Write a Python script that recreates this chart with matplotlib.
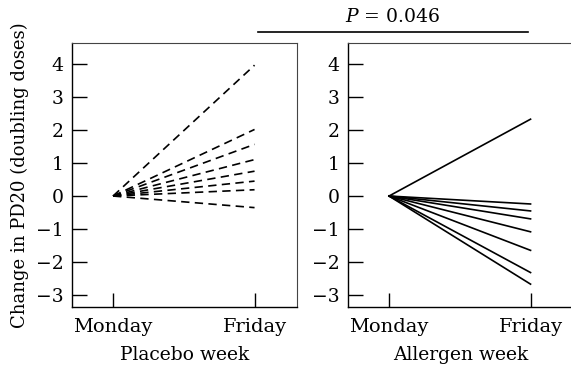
import matplotlib
matplotlib.use("Agg")
import matplotlib.pyplot as plt
from matplotlib.lines import Line2D

days = ["Monday", "Friday"]
placebo_friday = [3.95, 2.01, 1.56, 1.10, 0.75, 0.45, 0.19, -0.35]
allergen_friday = [2.32, -0.24, -0.45, -0.69, -1.08, -1.64, -2.31, -2.66]
monday_value = 0.0
yticks = [-3, -2, -1, 0, 1, 2, 3, 4]
p_text = "$P$ = 0.046"

plt.rcParams['font.family'] = ['DejaVu Serif']
plt.rcParams['mathtext.fontset'] = 'dejavuserif'

W, H = 571, 371
fig = plt.figure(figsize=(W / 100, H / 100), dpi=100)

def mk(left, right):
    return fig.add_axes([left / W, 1 - 307 / H, (right - left) / W, (307 - 43) / H])

ax1 = mk(72, 297)
ax2 = mk(348, 573)

for ax, vals, ls, xl in [(ax1, placebo_friday, (0, (5, 3.2)), "Placebo week"),
                         (ax2, allergen_friday, '-', "Allergen week")]:
    for v in vals:
        ax.plot([0, 1], [monday_value, v], color='black', lw=1.2, linestyle=ls)
    ax.set_xlim(-0.29, 1.30)
    ax.set_ylim(-3.35, 4.62)
    ax.set_xticks([0, 1])
    ax.set_xticklabels(days, fontsize=14)
    ax.set_yticks(yticks)
    ax.set_yticklabels([str(t).replace('-', '\u2212') for t in yticks], fontsize=13.5)
    ax.tick_params(axis='y', direction='in', length=11, width=1, pad=6)
    ax.tick_params(axis='x', direction='in', length=10, width=1, pad=8)
    ax.set_xlabel(xl, fontsize=13.5, labelpad=7)
    for s in ['left', 'bottom']:
        ax.spines[s].set_linewidth(1.0)
    for s in ['top', 'right']:
        ax.spines[s].set_linewidth(0.8)
        ax.spines[s].set_color('#444444')

ax1.set_ylabel("Change in PD20 (doubling doses)", fontsize=13, labelpad=5)

fig.add_artist(Line2D([258 / W, 528 / W], [1 - 32 / H, 1 - 32 / H],
                      transform=fig.transFigure, color='black', lw=1.2))
fig.text(393 / W, 1 - 17 / H, p_text, ha='center', va='center', fontsize=13.5)

fig.savefig("out.png", dpi=100)
